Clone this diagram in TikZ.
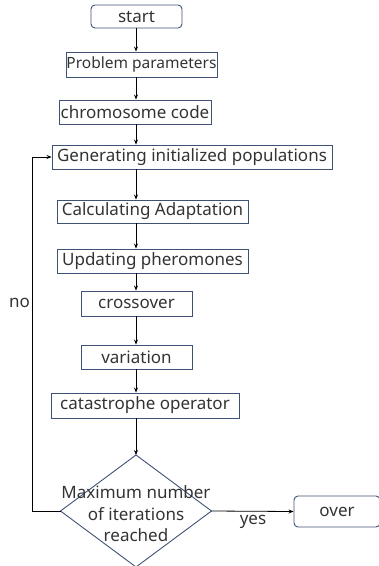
\documentclass[tikz,border=0pt]{standalone}
\usepackage{fontspec}
\setmainfont{Noto Sans}
\usetikzlibrary{arrows.meta}
\definecolor{bord}{HTML}{3F5275}
\definecolor{txt}{HTML}{333333}
\tikzset{
  box/.style={draw=bord, line width=0.9pt, inner sep=0pt, text=txt, font=\fontsize{17}{19}\selectfont},
  rbox/.style={box, rounded corners=4pt},
  conn/.style={draw=black, line width=0.8pt, -{Stealth[length=5pt,width=4pt]}},
  lbl/.style={text=txt, font=\fontsize{17}{19}\selectfont, inner sep=0pt}
}
\begin{document}
\begin{tikzpicture}[x=1pt,y=-1pt]
\useasboundingbox (0,0) rectangle (379,566);
\coordinate (axis) at (136,0);
\node[rbox, minimum width=91pt, minimum height=23pt] (start) at (136.5,16.5) {start};
\node[box, minimum width=151pt, minimum height=25pt, font=\fontsize{15.5}{17}\selectfont] (prob) at (141.5,64.5) {Problem parameters};
\node[box, minimum width=152pt, minimum height=24pt] (chrom) at (135,112) {chromosome code};
\node[box, minimum width=280pt, minimum height=24pt] (gen) at (192,157) {Generating initialized populations};
\node[box, minimum width=191pt, minimum height=23pt] (calc) at (152.5,211.5) {Calculating Adaptation};
\node[box, minimum width=191pt, minimum height=24pt] (upd) at (152.5,261) {Updating pheromones};
\node[box, minimum width=111pt, minimum height=25pt] (cross) at (136.5,303.5) {crossover};
\node[box, minimum width=111pt, minimum height=24pt] (var) at (136.5,357) {variation};
\node[box, minimum width=188pt, minimum height=25pt] (cat) at (145,405.5) {catastrophe operator};
\coordinate (dt) at (136,455);
\coordinate (db) at (136,567);
\coordinate (dl) at (60.5,511);
\coordinate (dr) at (211.5,511);
\draw[bord, line width=0.9pt] (dt) -- (dr) -- (db) -- (dl) -- cycle;
\node[lbl, align=center, font=\fontsize{17}{21.5}\selectfont] (dtext) at (136,514) {Maximum number\\of iterations\\reached};
\node[rbox, minimum width=86pt, minimum height=31pt] (over) at (337,511.5) {over};
\coordinate (lb) at (32,511);
\coordinate (lt) at (32,157);
\node[lbl, anchor=east] (no) at (30,303) {no};
\node[lbl] (yes) at (253,522) {yes};
\draw[conn] (start.south -| axis) -- (prob.north -| axis);
\draw[conn] (prob.south -| axis) -- (chrom.north -| axis);
\draw[conn] (chrom.south -| axis) -- (gen.north -| axis);
\draw[conn] (gen.south -| axis) -- (calc.north -| axis);
\draw[conn] (calc.south -| axis) -- (upd.north -| axis);
\draw[conn] (upd.south -| axis) -- (cross.north -| axis);
\draw[conn] (cross.south -| axis) -- (var.north -| axis);
\draw[conn] (var.south -| axis) -- (cat.north -| axis);
\draw[conn] (cat.south -| axis) -- (dt);
\draw[conn] (dr) -- (over.west);
\draw[conn] (dl) -- (lb) -- (lt) -- (gen.west);
\end{tikzpicture}
\end{document}
